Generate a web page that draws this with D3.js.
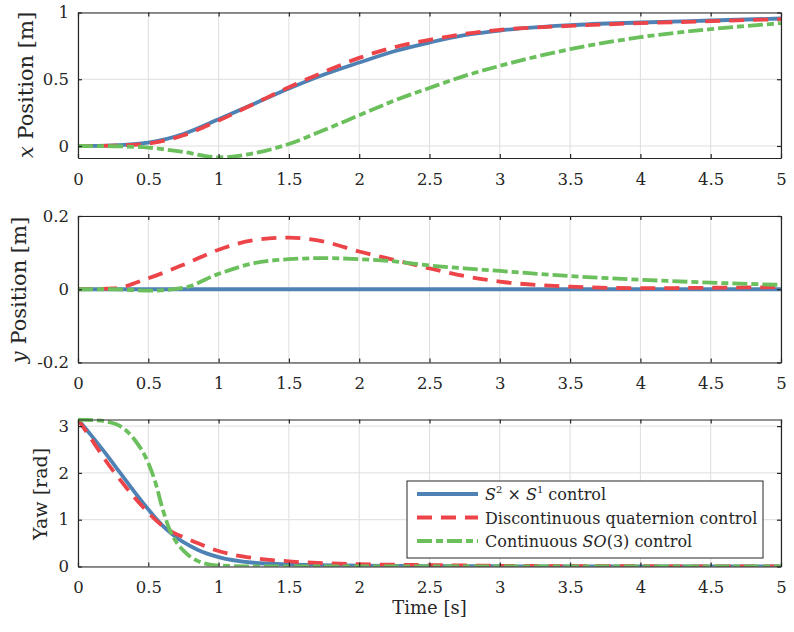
<!DOCTYPE html>
<html>
<head>
<meta charset="utf-8">
<script src="https://cdn.jsdelivr.net/npm/d3@7"></script>
<style>
  body { margin: 0; background: #fff; }
  svg text { font-family: "DejaVu Serif", serif; }
</style>
</head>
<body>
<svg id="chart" width="794" height="632"></svg>
<script>
// time samples
const tPos = [0, 0.25, 0.5, 0.75, 1, 1.25, 1.5, 1.75, 2, 2.25, 2.5, 2.75, 3, 3.5, 4, 4.5, 5];
const tYaw = [0, 0.1, 0.2, 0.3, 0.4, 0.5, 0.55, 0.6, 0.65, 0.7, 0.75, 0.85, 1, 1.25, 1.5, 2, 2.5, 3, 4, 5];

// x position [m]
const xS2S1 = [0, 0.005, 0.025, 0.09, 0.2, 0.315, 0.43, 0.535, 0.625, 0.71, 0.775, 0.83, 0.865, 0.905, 0.925, 0.94, 0.955];
const xQuat = [0, 0.003, 0.018, 0.08, 0.19, 0.315, 0.44, 0.555, 0.66, 0.74, 0.795, 0.84, 0.87, 0.9, 0.92, 0.935, 0.95];
const xSO3  = [0, -0.002, -0.012, -0.045, -0.085, -0.055, 0.015, 0.12, 0.23, 0.34, 0.435, 0.525, 0.6, 0.725, 0.815, 0.875, 0.92];

// y position [m]
const yS2S1 = [0, 0, 0, 0, 0, 0, 0, 0, 0, 0, 0, 0, 0, 0, 0, 0, 0];
const yQuat = [0, 0.002, 0.03, 0.067, 0.108, 0.134, 0.141, 0.13, 0.103, 0.08, 0.057, 0.036, 0.021, 0.007, 0.003, 0.004, 0.006];
const ySO3  = [0, 0, -0.004, 0.004, 0.042, 0.071, 0.082, 0.085, 0.082, 0.076, 0.065, 0.057, 0.05, 0.036, 0.026, 0.018, 0.012];

// yaw [rad]
const yawS2S1 = [3.14, 2.78, 2.4, 2.0, 1.6, 1.22, 1.04, 0.88, 0.74, 0.62, 0.52, 0.36, 0.2, 0.08, 0.045, 0.02, 0.01, 0.005, 0.002, 0];
const yawQuat = [3.14, 2.7, 2.25, 1.85, 1.48, 1.15, 1.0, 0.87, 0.77, 0.69, 0.63, 0.5, 0.33, 0.18, 0.11, 0.05, 0.03, 0.015, 0.005, 0];
const yawSO3  = [3.14, 3.13, 3.1, 3.0, 2.72, 2.21, 1.8, 1.25, 0.8, 0.52, 0.34, 0.12, 0.02, 0.003, 0, 0, 0, 0, 0, 0];

const xTicks = [0, 0.5, 1, 1.5, 2, 2.5, 3, 3.5, 4, 4.5, 5];
const legendLabels = ["S2S1", "Discontinuous quaternion control", "SO3"];

const colors = ["#4f82b4", "#ec4448", "#6bbf5c"];
const dashes = [null, "15,9", "15,4,7,4"];
const serif = "DejaVu Serif";

const svg = d3.select("#chart");
const left = 78, right = 781;

const x = d3.scaleLinear([0, 5], [left, right]);

const line = (xs, ys, yScale) => d3.line()
    .x(d => x(d[0]))
    .y(d => yScale(d[1]))
    .curve(d3.curveMonotoneX)(d3.zip(xs, ys));

function panel({top, bottom, yDomain, yTicks, ts, series}) {
  const y = d3.scaleLinear(yDomain, [bottom, top]);
  const g = svg.append("g");

  // grid
  g.append("g")
    .selectAll("line")
    .data(xTicks)
    .join("line")
      .attr("x1", d => x(d)).attr("x2", d => x(d))
      .attr("y1", top).attr("y2", bottom)
      .attr("stroke", "#dedede").attr("stroke-width", 1);
  g.append("g")
    .selectAll("line")
    .data(yTicks)
    .join("line")
      .attr("x1", left).attr("x2", right)
      .attr("y1", d => y(d)).attr("y2", d => y(d))
      .attr("stroke", "#dedede").attr("stroke-width", 1);

  // series
  const clipId = "clip" + Math.round(top);
  svg.append("clipPath").attr("id", clipId)
    .append("rect").attr("x", left).attr("y", top - 2)
    .attr("width", right - left).attr("height", bottom - top + 2);
  g.append("g")
    .attr("clip-path", `url(#${clipId})`)
    .selectAll("path")
    .data(series)
    .join("path")
      .attr("d", s => line(ts, s, y))
      .attr("fill", "none")
      .attr("stroke", (s, i) => colors[i])
      .attr("stroke-width", 3.8)
      .attr("stroke-dasharray", (s, i) => dashes[i]);

  // axes
  const fmt = d => String(d);
  g.append("g")
      .attr("transform", `translate(0,${bottom})`)
      .call(d3.axisBottom(x).tickValues(xTicks).tickSizeInner(-4).tickSizeOuter(0).tickPadding(15).tickFormat(fmt));
  g.append("g")
      .attr("transform", `translate(0,${top})`)
      .call(d3.axisTop(x).tickValues(xTicks).tickSizeInner(-4).tickSizeOuter(0).tickFormat(""));
  g.append("g")
      .attr("transform", `translate(${left},0)`)
      .call(d3.axisLeft(y).tickValues(yTicks).tickSizeInner(-4).tickSizeOuter(0).tickPadding(9).tickFormat(fmt));
  g.append("g")
      .attr("transform", `translate(${right},0)`)
      .call(d3.axisRight(y).tickValues(yTicks).tickSizeInner(-4).tickSizeOuter(0).tickFormat(""));

  g.selectAll(".domain").attr("stroke", "#262626").attr("stroke-width", 1.2);
  g.selectAll(".tick line").attr("stroke", "#262626").attr("stroke-width", 1.2);
  g.selectAll("g").attr("font-family", serif);
  g.selectAll(".tick text").attr("font-size", 16.5).attr("fill", "#262626");
  return g;
}

panel({top: 12.5, bottom: 158, yDomain: [-0.09, 1], yTicks: [0, 0.5, 1],
  ts: tPos, series: [xS2S1, xQuat, xSO3]});
panel({top: 216, bottom: 362.5, yDomain: [-0.2, 0.2], yTicks: [-0.2, 0, 0.2],
  ts: tPos, series: [yS2S1, yQuat, ySO3]});
panel({top: 419.5, bottom: 566.5, yDomain: [0, Math.PI], yTicks: [0, 1, 2, 3],
  ts: tYaw, series: [yawS2S1, yawQuat, yawSO3]});

// axis labels
const lab = (cx, cy, rot, size) => svg.append("text")
    .attr("transform", `translate(${cx},${cy}) rotate(${rot})`)
    .attr("text-anchor", "middle")
    .attr("font-family", serif)
    .attr("font-size", size).attr("fill", "#262626");

const l1 = lab(33, 85, -90, 21);
l1.append("tspan").attr("font-style", "italic").text("x");
l1.append("tspan").text(" Position [m]");
const l2 = lab(26, 290, -90, 21);
l2.append("tspan").attr("font-style", "italic").text("y");
l2.append("tspan").text(" Position [m]");
lab(47, 494, -90, 19).text("Yaw [rad]");
lab(429.5, 614, 0, 18).text("Time [s]");

// legend
const lg = svg.append("g").attr("font-family", serif);
lg.append("rect")
  .attr("x", 407).attr("y", 481).attr("width", 356).attr("height", 77)
  .attr("fill", "#fff").attr("stroke", "#262626").attr("stroke-width", 1);
const rows = lg.selectAll("g.row")
  .data(legendLabels)
  .join("g")
    .attr("transform", (d, i) => `translate(0,${494 + i * 23.5})`);
rows.append("line")
  .attr("x1", 417).attr("x2", 478)
  .attr("stroke", (d, i) => colors[i])
  .attr("stroke-width", 3.8)
  .attr("stroke-dasharray", (d, i) => dashes[i]);
const txt = rows.append("text")
  .attr("x", 485).attr("y", 6)
  .attr("font-size", 16).attr("fill", "#262626");
txt.each(function(d) {
  const t = d3.select(this);
  if (d === "S2S1") {
    t.append("tspan").attr("font-style", "italic").text("S");
    t.append("tspan").attr("font-size", 10).attr("dy", -7).text("2");
    t.append("tspan").attr("dy", 7).text(" × ");
    t.append("tspan").attr("font-style", "italic").text("S");
    t.append("tspan").attr("font-size", 10).attr("dy", -7).text("1");
    t.append("tspan").attr("dy", 7).text(" control");
  } else if (d === "SO3") {
    t.append("tspan").text("Continuous ");
    t.append("tspan").attr("font-style", "italic").text("SO");
    t.append("tspan").text("(3) control");
  } else {
    t.text(d);
  }
});
</script>
</body>
</html>
